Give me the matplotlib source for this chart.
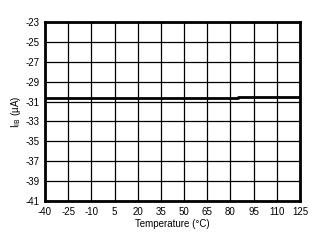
import numpy as np
import matplotlib.pyplot as plt

plt.rcParams['font.family'] = ['Liberation Sans', 'DejaVu Sans']
plt.rcParams['axes.unicode_minus'] = False

# bias current vs temperature
temperature = [-40, -25, -10, 5, 20, 35, 50, 65, 80, 84, 85, 95, 110, 125]
ib_current = [-30.6, -30.6, -30.6, -30.6, -30.6, -30.6, -30.6, -30.6, -30.6, -30.6,
              -30.5, -30.5, -30.5, -30.5]

x_ticks = [-40, -25, -10, 5, 20, 35, 50, 65, 80, 95, 110, 125]
y_ticks = [-23, -25, -27, -29, -31, -33, -35, -37, -39, -41]

fig = plt.figure(figsize=(3.22, 2.43), dpi=100)
ax = fig.add_axes([45 / 322, 1 - 201 / 243, 255 / 322, 179 / 243])

ax.plot(temperature, ib_current, color='black', linewidth=2, drawstyle='steps-post')

ax.set_xlim(-40, 125)
ax.set_ylim(-41, -23)
ax.set_xticks(x_ticks)
ax.set_yticks(y_ticks)
ax.grid(True, color='black', linewidth=0.9)
ax.tick_params(length=0, labelsize=7, pad=4)
for s in ax.spines.values():
    s.set_linewidth(2)

ax.set_xlabel('Temperature (°C)', fontsize=7, labelpad=2)
ax.set_ylabel(r'I$_{\mathrm{IB}}$ (µA)', fontsize=7, labelpad=2)

fig.savefig('out.png', dpi=100)
